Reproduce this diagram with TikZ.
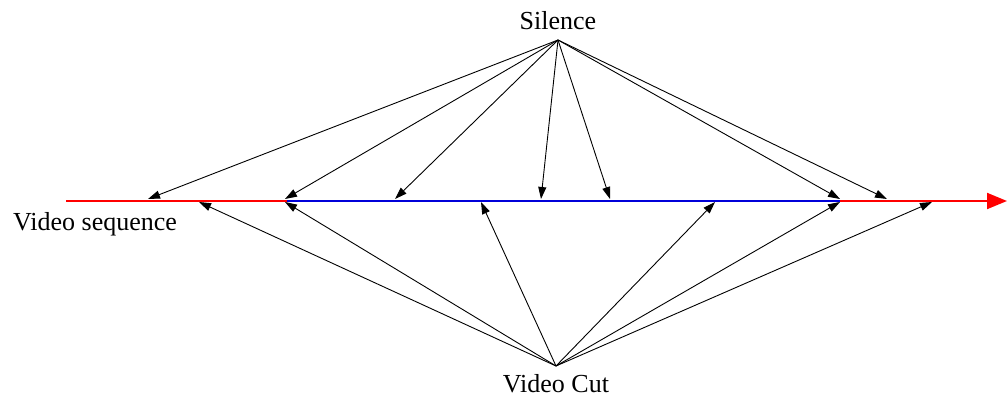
\documentclass[tikz,border=0pt]{standalone}
\usepackage{fontspec}
\setmainfont{Liberation Serif}
\usetikzlibrary{arrows.meta}
\begin{document}
\begin{tikzpicture}[x=1pt,y=-1pt,
  lbl/.style={font=\fontsize{26}{30}\selectfont, inner sep=0pt},
  ray/.style={line width=0.9pt, -{Triangle[length=12pt,width=8pt]}},
  seq/.style={draw=red, line width=2pt},
  seg/.style={draw=blue!85!black, line width=2pt}]
\useasboundingbox (0,0) rectangle (1007,398);
% labels
\node[lbl, anchor=base] (sil) at (558,30) {Silence};
\node[lbl, anchor=base] (cut) at (556,392) {Video Cut};
\node[lbl, anchor=base west] (vs) at (13,231) {Video sequence};
% sources
\coordinate (S) at (558,40);
\coordinate (C) at (556,366);
% line
\coordinate (L0) at (66,201);
\coordinate (L1) at (1007,201);
\coordinate (B0) at (287,201);
\coordinate (B1) at (840,201);
\draw[seq, -{Triangle[length=20pt,width=16pt]}] (L0) -- (L1);
\draw[seg] (B0) -- (B1);
% targets from Silence
\foreach \n/\x in {a/148,b/285,c/395,d/541,e/610,f/840,g/887}{
  \coordinate (t\n) at (\x,199);
  \draw[ray] (S) -- (t\n);
}
% targets from Video Cut
\foreach \n/\x in {a/199,b/285,c/481,d/715,e/840,f/932}{
  \coordinate (u\n) at (\x,202);
  \draw[ray] (C) -- (u\n);
}
\end{tikzpicture}
\end{document}
